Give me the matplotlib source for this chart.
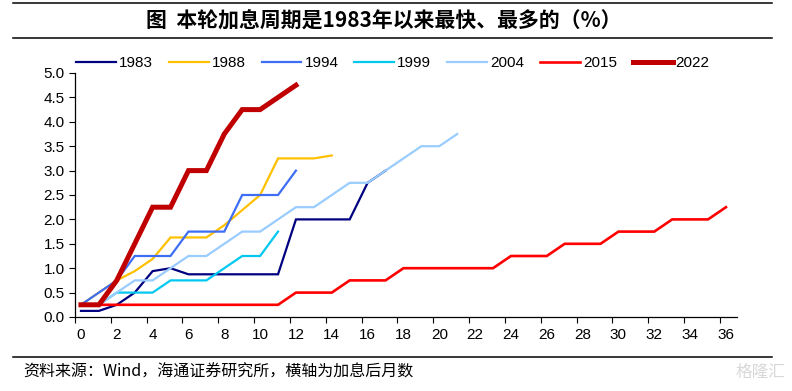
import numpy as np
import matplotlib.pyplot as plt
from matplotlib.lines import Line2D

plt.rcParams['font.family'] = ['Liberation Sans', 'Noto Sans CJK SC', 'DejaVu Sans']

# months after first hike, cumulative hike (%)
cycles = ['1983', '1988', '1994', '1999', '2004', '2015', '2022']
v1983 = [0.125, 0.125, 0.25, 0.5, 0.94, 1.0, 0.875, 0.875, 0.875, 0.875, 0.875, 0.875,
         2.0, 2.0, 2.0, 2.0, 2.75, 3.0]
v1988 = [0.25, 0.5, 0.75, 0.94, 1.19, 1.63, 1.63, 1.63, 1.88, 2.19, 2.5, 3.25, 3.25, 3.25, 3.31]
v1994 = [0.25, 0.5, 0.75, 1.25, 1.25, 1.25, 1.75, 1.75, 1.75, 2.5, 2.5, 2.5, 3.0]
v1999 = [0.25, 0.25, 0.5, 0.5, 0.5, 0.75, 0.75, 0.75, 1.0, 1.25, 1.25, 1.75]
v2004 = [0.25, 0.25, 0.5, 0.75, 0.75, 1.0, 1.25, 1.25, 1.5, 1.75, 1.75, 2.0, 2.25, 2.25,
         2.5, 2.75, 2.75, 3.0, 3.25, 3.5, 3.5, 3.75]
v2015 = [0.25] * 12 + [0.5] * 3 + [0.75] * 3 + [1.0] * 6 + [1.25] * 3 + [1.5] * 3 + \
        [1.75] * 3 + [2.0] * 3 + [2.25]
v2022 = [0.25, 0.25, 0.75, 1.5, 2.25, 2.25, 3.0, 3.0, 3.75, 4.25, 4.25, 4.5, 4.75]

series = [v1983, v1988, v1994, v1999, v2004, v2015, v2022]
colors = ['#000080', '#FFC000', '#3D6EF5', '#00C8F0', '#99CCFF', '#FF0000', '#C00000']
widths = [1.6, 1.6, 1.6, 1.6, 1.6, 1.9, 3.6]

fig = plt.figure(figsize=(7.92, 3.91), dpi=100)
ax = fig.add_axes([74.5 / 792, 1 - 317 / 391, (736.7 - 74.5) / 792, (317 - 73) / 391])

handles = []
for name, vals, c, lw in zip(cycles, series, colors, widths):
    ln, = ax.plot(np.arange(len(vals)), vals, color=c, lw=lw, label=name,
                  solid_joinstyle='miter')
    handles.append(ln)

ax.set_xlim(-0.36, 36.6)
ax.set_ylim(0, 5)
ax.set_yticks(np.arange(0, 5.01, 0.5))
ax.set_yticklabels([f'{v:.1f}' for v in np.arange(0, 5.01, 0.5)])
ax.set_xticks(np.arange(0, 37, 2))
ax.set_xticks(np.arange(0, 37, 2) - 0.34, minor=True)
ax.tick_params(axis='x', which='major', length=0, pad=8, labelsize=11)
ax.tick_params(axis='x', which='minor', length=4, width=0.8, direction='out')
ax.tick_params(axis='y', length=4, width=0.8, direction='out', pad=3, labelsize=11)
for s in ['top', 'right']:
    ax.spines[s].set_visible(False)
for s in ['left', 'bottom']:
    ax.spines[s].set_linewidth(0.9)
    ax.spines[s].set_color('black')

fig.legend(handles=handles, loc='center left', bbox_to_anchor=(76 / 792, 1 - 63 / 391),
           ncol=7, frameon=False, fontsize=11, handlelength=2.6, handletextpad=0.2,
           columnspacing=1.05, borderpad=0, borderaxespad=0)

# header / footer rules
for y in [1 - 3 / 391, 1 - 37.5 / 391, 1 - 357 / 391]:
    fig.add_artist(Line2D([13 / 792, 772 / 792], [y, y], color='black', lw=1.1))

fig.text(384 / 792, 1 - 21 / 391, '图  本轮加息周期是1983年以来最快、最多的（%）',
         ha='center', va='center', fontsize=15, fontweight='bold',
         family=['Noto Sans CJK SC', 'DejaVu Sans'])
fig.text(23 / 792, 1 - 372 / 391, '资料来源：Wind，海通证券研究所，横轴为加息后月数',
         ha='left', va='center', fontsize=11.5, family=['Noto Sans CJK SC', 'DejaVu Sans'])
fig.text(785 / 792, 1 - 372 / 391, '格隆汇', ha='right', va='center', fontsize=12,
         color='#d8d8d8', family=['Noto Sans CJK SC', 'DejaVu Sans'])

fig.savefig('out.png', dpi=100)
